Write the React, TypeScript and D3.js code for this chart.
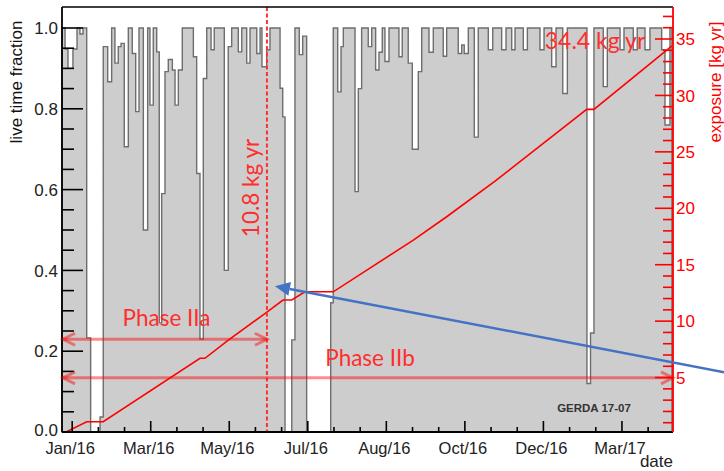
import React from 'react';
import * as d3 from 'd3';

// ---------------- DATA ----------------
// Live-time histogram: start day of each bin (days since axis start) and live time fraction
const binStartDays = [
  0, 2.4, 4.7, 8.6, 11.8, 14.1, 16.5, 19.4, 22.5, 29.9, 32.4, 35.9, 39.0, 41.6, 44.2, 46.4, 48.9,
  52.1, 55.2, 57.9, 60.5, 63.9, 67.3, 69.1, 71.7, 74.4, 76.4, 78.3, 80.9, 83.5, 86.7, 88.8, 91.4, 94.5,
  103.2, 105.8, 108.4, 111.0, 113.7, 117.1, 119.6, 127.5, 130.6, 133.3, 138.5, 141.2, 145.1, 147.7,
  153.0, 155.6, 157.1, 160.8, 163.4, 171.3, 173.4, 175.2, 180.5, 183.0, 186.4, 189.1, 192.2, 211.1,
  213.1, 216.6, 219.2, 221.0, 230.2, 232.8, 235.4, 240.6, 243.3, 246.4, 249.0, 251.6, 253.7, 256.9,
  264.7, 267.3, 272.0, 275.2, 279.9, 282.6, 288.3, 291.7, 299.5, 302.2, 311.3, 314.0, 316.0, 319.2,
  323.9, 327.0, 334.9, 338.4, 345.4, 348.8, 353.3, 355.9, 362.4, 365.6, 375.5, 378.7, 384.7, 388.1,
  393.4, 397.0, 412.4, 415.2, 417.9, 425.2, 428.4, 438.4, 441.5, 448.8, 451.9, 458.0, 461.9, 471.1,
  473.7, 477.6,
];
const liveFraction = [
  1.0, 0.948, 0.9, 0.948, 1.0, 0.985, 1.0, 0.233, 0, 0.037, 0.954, 0.867, 1.0, 0.913, 0.954, 0.962, 0.706,
  1.0, 0.937, 0.793, 1.0, 0.5, 1.0, 0.809, 1.0, 0.941, 0.27, 0.59, 0.892, 0.922, 0.896, 0.809, 0.896, 1.0,
  0.929, 0.64, 0.23, 0.875, 1.0, 0.946, 1.0, 0.4, 0.954, 1.0, 0.941, 1.0, 0.913, 1.0,
  0.937, 1.0, 0.904, 0.946, 1.0, 0.851, 0.78, 0, 0.228, 1.0, 0.934, 0.98, 0, 0.32,
  1.0, 0.842, 0.954, 1.0, 0.595, 0.85, 1.0, 0.954, 1.0, 0.896, 0.94, 1.0, 0.917, 1.0,
  0.929, 1.0, 0.913, 0.7, 0.892, 1.0, 0.94, 1.0, 0.93, 1.0, 0.937, 0.958, 0.937, 1.0,
  0.73, 1.0, 0.946, 1.0, 0.946, 1.0, 0.946, 1.0, 0.946, 1.0, 0.946, 1.0, 0.904, 1.0,
  0.838, 1.0, 0.12, 0.245, 1.0, 0.855, 1.0, 0.946, 1.0, 0.946, 1.0, 0.946, 1.0, 0.946,
  0.76, 1.0,
];
const histEndDay = 479.2;

// Cumulative exposure (kg yr)
const exposureDays = [0, 19.4, 32.4, 108.4, 112.3, 130.4, 161.0, 173.6, 180.5, 190.9, 213.1, 276.0, 302.2, 340.2, 412.2, 417.9, 479.2];
const exposureKgYr = [0, 1.09, 1.09, 6.71, 6.71, 8.3, 10.8, 11.87, 11.87, 12.6, 12.6, 17.18, 19.25, 22.41, 28.76, 28.76, 34.4];

// Axes
const dateTickDays = [8, 69.7, 131.4, 193.1, 254.8, 316.5, 378.2, 439.9];
const dateTickLabels = ['Jan/16', 'Mar/16', 'May/16', 'Jul/16', 'Aug/16', 'Oct/16', 'Dec/16', 'Mar/17'];
const liveTickValues = [0, 0.2, 0.4, 0.6, 0.8, 1.0];
const exposureTickValues = [5, 10, 15, 20, 25, 30, 35];

// Annotations
const phaseIIaEndDay = 161;
const phaseIIaArrowLevel = 0.2295;
const phaseIIbArrowLevel = 0.134;
const phaseIIaLabel = 'Phase IIa';
const phaseIIbLabel = 'Phase IIb';
const phaseIIaExposureLabel = '10.8 kg yr';
const totalExposureLabel = '34.4 kg yr';
const blueArrowTip = { day: 167.3, level: 0.361 };
const blueArrowTail = { day: 525, level: 0.145 };

const ROOT_FONT = '"Liberation Sans", Arial, Helvetica, sans-serif';
const NOTE_FONT = 'Lato, "Open Sans", sans-serif';

export default function App() {
  const W = 724, H = 471;
  const L = 62, R = 673, T = 7, B = 432;

  const x = d3.scaleLinear().domain([0, 480]).range([L, R]);
  const yL = d3.scaleLinear().domain([0, 1]).range([B, 28]);
  const yR = d3.scaleLinear().domain([0, 35]).range([434, 39]);

  // histogram path
  const p = d3.path();
  p.moveTo(x(binStartDays[0]), yL(0));
  binStartDays.forEach((d, i) => {
    const d1 = i < binStartDays.length - 1 ? binStartDays[i + 1] : histEndDay;
    p.lineTo(x(d), yL(liveFraction[i]));
    p.lineTo(x(d1), yL(liveFraction[i]));
  });
  p.lineTo(x(histEndDay), yL(0));
  p.closePath();

  const expPath = d3
    .line<number>()
    .x((_, i) => x(exposureDays[i]))
    .y((d) => yR(d))(exposureKgYr);

  // ticks
  const isMult = (v: number, s: number) => Math.abs(v / s - Math.round(v / s)) < 1e-6;
  const leftMinor = d3.range(0.05, 1.0001, 0.05).filter((v) => !isMult(v, 0.2));
  const dStep = (dateTickDays[1] - dateTickDays[0]) / 3;
  const bottomMinor: number[] = [];
  for (let k = -3; k < 40; k++) {
    const d = dateTickDays[0] + k * dStep;
    if (d > 0 && d < 480 && ((k % 3) + 3) % 3 !== 0) bottomMinor.push(d);
  }
  const rightMinor = d3.range(1, 40).filter((v) => v % 5 !== 0 && yR(v) >= T + 1);

  // arrows
  const arrowHead = (xt: number, yt: number, dir: number) => (
    <path
      d={`M${xt + dir * 12},${yt - 6} L${xt},${yt} L${xt + dir * 12},${yt + 6}`}
      fill="none"
      stroke="#ff0000"
      strokeOpacity={0.45}
      strokeWidth={3}
    />
  );
  const aIIaY = yL(phaseIIaArrowLevel);
  const aIIbY = yL(phaseIIbArrowLevel);

  const tipX = x(blueArrowTip.day), tipY = yL(blueArrowTip.level);
  const tailX = x(blueArrowTail.day), tailY = yL(blueArrowTail.level);
  const len = Math.hypot(tailX - tipX, tailY - tipY);
  const ux = (tailX - tipX) / len, uy = (tailY - tipY) / len;
  const hl = 15, hw = 7;
  const bx = tipX + ux * hl, by = tipY + uy * hl;

  const red = '#ff0000';
  const noteRed = '#ff2d2d';

  return (
    <svg
      width={W}
      height={H}
      style={{ position: 'absolute', left: 0, top: 0, background: '#fff' }}
    >
      <defs>
        <clipPath id="plot">
          <rect x={L} y={T} width={R - L} height={B - T} />
        </clipPath>
      </defs>
      <rect x={0} y={0} width={W} height={H} fill="#fff" />

      {/* histogram */}
      <path d={p.toString()} fill="#cdcdcd" stroke="#6e6e6e" strokeWidth={1.4} strokeLinejoin="miter" />

      {/* exposure line */}
      <path d={expPath || ''} fill="none" stroke={red} strokeWidth={1.6} clipPath="url(#plot)" />

      {/* end of phase IIa */}
      <line x1={x(phaseIIaEndDay)} x2={x(phaseIIaEndDay)} y1={T} y2={B} stroke="#ff3030" strokeWidth={2} strokeDasharray="4,2.5" />

      {/* frame & axes */}
      <line x1={L} x2={R} y1={T} y2={T} stroke="#000" strokeWidth={1.5} />
      <line x1={L} x2={L} y1={T} y2={B} stroke="#000" strokeWidth={1.8} />
      <line x1={L} x2={R} y1={B} y2={B} stroke="#000" strokeWidth={1.8} />
      <line x1={R} x2={R} y1={T} y2={B} stroke={red} strokeWidth={1.8} />

      {/* left ticks */}
      {liveTickValues.map((v) => (
        <line key={'lm' + v} x1={L} x2={L + 21} y1={yL(v)} y2={yL(v)} stroke="#000" strokeWidth={1.6} />
      ))}
      {leftMinor.map((v) => (
        <line key={'ln' + v} x1={L} x2={L + 12} y1={yL(v)} y2={yL(v)} stroke="#000" strokeWidth={1.6} />
      ))}
      {liveTickValues.map((v) => (
        <text key={'lt' + v} x={58} y={yL(v) - (v === 0 ? 2 : 0)} dy="0.36em" textAnchor="end" fontFamily={ROOT_FONT} fontSize={17} fill="#222">
          {v.toFixed(1)}
        </text>
      ))}

      {/* bottom ticks */}
      {dateTickDays.map((d) => (
        <line key={'bm' + d} x1={x(d)} x2={x(d)} y1={B} y2={B - 11} stroke="#000" strokeWidth={1.6} />
      ))}
      {bottomMinor.map((d) => (
        <line key={'bn' + d} x1={x(d)} x2={x(d)} y1={B} y2={B - 5} stroke="#000" strokeWidth={1.6} />
      ))}
      {dateTickDays.map((d, i) => (
        <text key={'bt' + d} x={x(d) - 2} y={454} textAnchor="middle" fontFamily={ROOT_FONT} fontSize={16.5} fill="#222">
          {dateTickLabels[i]}
        </text>
      ))}

      {/* right ticks */}
      {exposureTickValues.map((v) => (
        <line key={'rm' + v} x1={R} x2={R - 18} y1={yR(v)} y2={yR(v)} stroke={red} strokeWidth={1.6} />
      ))}
      {rightMinor.map((v) => (
        <line key={'rn' + v} x1={R} x2={R - 10} y1={yR(v)} y2={yR(v)} stroke={red} strokeWidth={1.6} />
      ))}
      {exposureTickValues.map((v) => (
        <text key={'rt' + v} x={R + 3} y={yR(v)} dy="0.36em" textAnchor="start" fontFamily={ROOT_FONT} fontSize={17} fill={red}>
          {v}
        </text>
      ))}

      {/* axis titles */}
      <text transform="translate(22,82) rotate(-90)" textAnchor="middle" fontFamily={ROOT_FONT} fontSize={17} fill="#111">
        live time fraction
      </text>
      <text transform="translate(721,82) rotate(-90)" textAnchor="middle" fontFamily={ROOT_FONT} fontSize={17} fill={red}>
        exposure [kg yr]
      </text>
      <text x={R} y={467} textAnchor="end" fontFamily={ROOT_FONT} fontSize={17} fill="#222">
        date
      </text>

      {/* phase arrows */}
      <line x1={x(0) + 1} x2={x(phaseIIaEndDay)} y1={aIIaY} y2={aIIaY} stroke="#ff0000" strokeOpacity={0.45} strokeWidth={3} />
      {arrowHead(x(0) + 1, aIIaY, 1)}
      {arrowHead(x(phaseIIaEndDay), aIIaY, -1)}
      <line x1={x(0) + 1} x2={R} y1={aIIbY} y2={aIIbY} stroke="#ff0000" strokeOpacity={0.45} strokeWidth={3} />
      {arrowHead(x(0) + 1, aIIbY, 1)}
      {arrowHead(R, aIIbY, -1)}

      <text x={166.5} y={326} textAnchor="middle" fontFamily={NOTE_FONT} fontSize={22.5} fill={noteRed}>
        {phaseIIaLabel}
      </text>
      <text x={370} y={366} textAnchor="middle" fontFamily={NOTE_FONT} fontSize={22.5} fill={noteRed}>
        {phaseIIbLabel}
      </text>
      <text transform="translate(259,188) rotate(-90)" textAnchor="middle" fontFamily={NOTE_FONT} fontSize={22.5} fill={noteRed}>
        {phaseIIaExposureLabel}
      </text>
      <text x={595} y={49} textAnchor="middle" fontFamily={NOTE_FONT} fontSize={23} fill={noteRed}>
        {totalExposureLabel}
      </text>

      <text x={594} y={412} textAnchor="middle" fontFamily={ROOT_FONT} fontSize={11.5} fontWeight="bold" fill="#333">
        GERDA 17-07
      </text>

      {/* blue arrow */}
      <line x1={tailX} y1={tailY} x2={bx} y2={by} stroke="#4472c4" strokeWidth={2.5} />
      <path
        d={`M${tipX},${tipY} L${bx - uy * hw},${by + ux * hw} L${bx + uy * hw},${by - ux * hw} Z`}
        fill="#4472c4"
      />
    </svg>
  );
}
